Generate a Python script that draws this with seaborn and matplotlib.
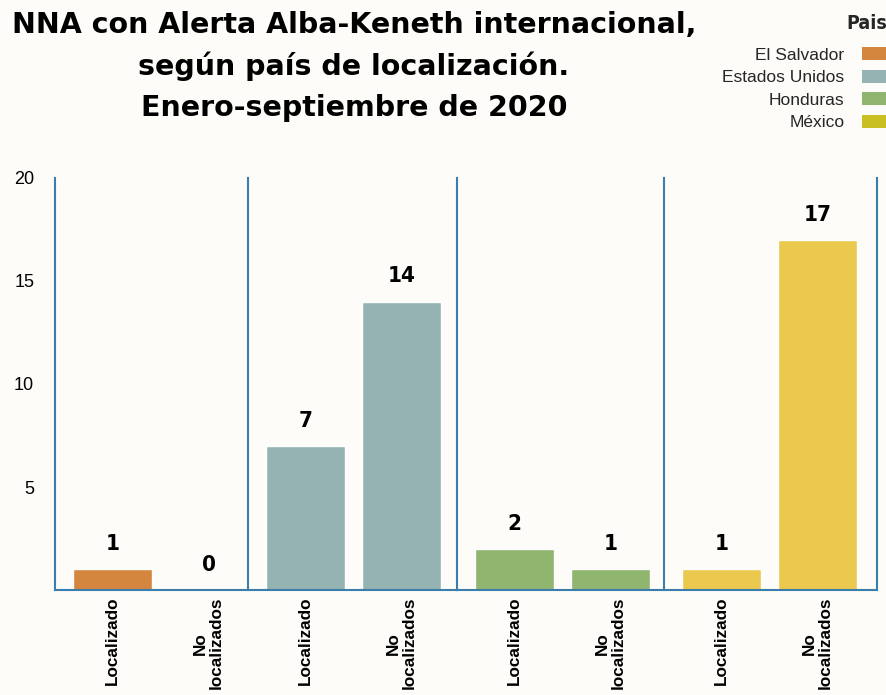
import pandas as pd
import numpy as np
import matplotlib.pyplot as plt
import seaborn as sns
from matplotlib.patches import Patch

# ========== DATOS ==========
paises = ["El Salvador", "Estados Unidos", "Honduras", "México"]
estados = ["Localizado", "No\nlocalizados"]
localizados = [1, 7, 2, 1]
no_localizados = [0, 14, 1, 17]

colores_barras = ["#D4853E", "#96B3B3", "#8FB56F", "#EBC84E"]
colores_leyenda = ["#D4853E", "#96B3B3", "#8FB56F", "#C9BE22"]

fondo = "#FDFCF9"
azul = "#3B7DAB"

sns.set_theme(style="white", rc={"figure.facecolor": fondo, "axes.facecolor": fondo})
plt.rcParams["font.family"] = ["Liberation Sans", "DejaVu Sans"]

# ========== GRAFICA ==========
anchos = [193, 209, 207, 213]   # ancho de cada panel en px
px_por_cat = 96
fig, axes = plt.subplots(1, 4, figsize=(8.87, 6.95), dpi=100, sharey=True,
                         gridspec_kw={"width_ratios": anchos, "wspace": 0})
fig.subplots_adjust(left=55/887, right=877/887, bottom=1-590/695, top=1-178/695)

for i, ax in enumerate(axes):
    sub = pd.DataFrame({"estado": estados, "n": [localizados[i], no_localizados[i]]})
    sns.barplot(data=sub, x="estado", y="n", order=estados, color=colores_barras[i],
                width=0.83, saturation=1, errorbar=None, ax=ax)
    ax.set_xlabel("")
    ax.set_ylabel("")
    ax.set_ylim(0, 20)
    izq = -0.6
    ax.set_xlim(izq, izq + anchos[i] / px_por_cat)
    ax.set_yticks([5, 10, 15, 20])
    ax.tick_params(axis="both", length=0)
    ax.tick_params(axis="y", labelsize=13, pad=15, labelcolor="black")
    ax.tick_params(axis="x", pad=5)
    for lbl in ax.get_xticklabels():
        lbl.set_rotation(90)
        lbl.set_fontsize(12.3)
        lbl.set_fontweight("bold")
        lbl.set_color("black")
        lbl.set_va("top")
        lbl.set_ha("center")
        lbl.set_linespacing(1.1)
    for s in ["top", "right", "left", "bottom"]:
        ax.spines[s].set_visible(False)
    for s in ["left", "bottom"]:
        ax.spines[s].set_visible(True)
        ax.spines[s].set_color(azul)
        ax.spines[s].set_linewidth(1.5)
    if i == len(paises) - 1:
        ax.spines["right"].set_visible(True)
        ax.spines["right"].set_color(azul)
        ax.spines["right"].set_linewidth(1.5)
    for c in ax.containers:
        ax.bar_label(c, fmt="%d", padding=11, fontsize=16, fontweight="bold",
                     family="DejaVu Sans", fontstretch="condensed", color="black")

# Titulo
fig.text(354/887, 1-11/695, "NNA con Alerta Alba-Keneth internacional,\nsegún país de localización.\nEnero-septiembre de 2020",
         ha="center", va="top", fontsize=20.5, fontweight="bold", family="DejaVu Sans",
         linespacing=1.55, color="black")

# Leyenda
handles = [Patch(facecolor=c, edgecolor="none") for c in colores_leyenda]
leg = fig.legend(handles, paises, loc="upper right", bbox_to_anchor=(1.0, 1 - 14/695),
                 frameon=False, markerfirst=False, title="Pais", alignment="right",
                 fontsize=12.5, handlelength=1.45, handleheight=0.8, labelspacing=0.4,
                 handletextpad=1.0, borderpad=0, borderaxespad=0,
                 title_fontproperties={"weight": "bold", "size": 14,
                                       "family": "DejaVu Sans", "stretch": "condensed"})
leg._legend_box.sep = 10

fig.savefig("out.png", dpi=100, facecolor=fondo)
